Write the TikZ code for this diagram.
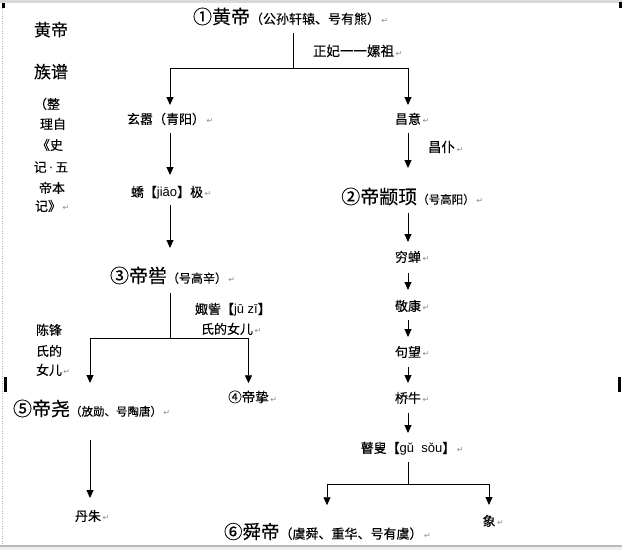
\documentclass[tikz,border=0pt]{standalone}
\usepackage{fontspec}
\setmainfont{Noto Sans CJK SC}[FakeBold=0.15]
\newfontfamily\latf{Liberation Sans}
\newfontfamily\symf{DejaVu Sans}
\usetikzlibrary{arrows.meta}
\newcommand\pmk{\rlap{\hspace{1.5pt}{\symf\fontsize{8}{8}\selectfont\color{black!45}↵}}}
\newcommand\sm[2]{{\fontsize{#1}{#1}\selectfont #2}}
\tikzset{
  tn/.style={inner sep=0pt, outer sep=0pt, font=\fontsize{#1}{#1}\selectfont,
             text height={0.8*#1pt}, text depth={0.2*#1pt}},
  ln/.style={line width=0.9pt, black},
  arr/.style={line width=0.9pt, black, -{Triangle[width=7pt,length=8pt]}},
}
\begin{document}
\begin{tikzpicture}[x=1pt,y=-1pt]
\useasboundingbox (0,0) rectangle (622,550);
\fill[white] (0,0) rectangle (622,550);
% page frame of the screenshot
\fill[gray!30] (0,0) rectangle (622,3);
\draw[gray!60, line width=0.8pt, dash pattern=on 1pt off 1.5pt] (2.5,3) -- (2.5,545);
\fill[gray!55] (0,545) rectangle (622,547);
\fill[gray!12] (0,547) rectangle (622,550);
\fill[black] (2,3) rectangle (4.5,8);
\fill[black] (619,2) rectangle (622,7.5);
\fill[black] (4,377) rectangle (7,392);
\fill[black] (618,377) rectangle (621,392);

% coordinates for columns and junctions
\coordinate (L) at (170,0);
\coordinate (R) at (408,0);
\coordinate (L2) at (90,0);
\coordinate (S) at (327,0);
\coordinate (J1) at (293,68);
\coordinate (J2) at (170,338);
\coordinate (J3) at (408,484);

% title block at left
\node[tn=17, anchor=west] (t1) at (34,31) {黄帝};
\node[tn=17, anchor=west] (t2) at (34,73) {族谱};
\node[tn=13] (c1) at (47,105) {（整};
\node[tn=13] (c2) at (53,125) {理自};
\node[tn=13] (c3) at (50,146) {《史};
\node[tn=13] (c4) at (51,168) {记{\latf\,·\,}五};
\node[tn=13] (c5) at (52,189) {帝本};
\node[tn=13] (c6) at (48,207) {记》\pmk};

% main nodes
\node[tn=19, anchor=west] (hd) at (193,18) {①黄帝\sm{13}{（公孙轩辕、号有熊）}\pmk};
\node[tn=13.5, anchor=west] (fei) at (313,52) {正妃一一嫘祖\pmk};
\node[tn=13] (xx) at (166,120) {玄嚣（青阳）\pmk};
\node[tn=13] (jj) at (167,193) {蟜【{\latf jiāo}】极\pmk};
\node[tn=19, anchor=west] (dk) at (110,277) {③帝喾\sm{12}{（号高辛）}\pmk};
\node[tn=13, anchor=west] (jz1) at (195,310) {娵訾【{\latf jū zī}】};
\node[tn=13, anchor=west] (jz2) at (201,330) {氏的女儿\pmk};
\node[tn=13, anchor=west] (cf1) at (36,331) {陈锋};
\node[tn=13, anchor=west] (cf2) at (36,352) {氏的};
\node[tn=13, anchor=west] (cf3) at (36,371) {女儿\pmk};
\node[tn=19, anchor=west] (dy) at (13,410) {⑤帝尧\sm{11.5}{（放勋、号陶唐）}\pmk};
\node[tn=13.5] (dz) at (248.5,398) {④帝挚\pmk};
\node[tn=13] (dzh) at (88,517) {丹朱\pmk};

\node[tn=13] (cy) at (408,120) {昌意\pmk};
\node[tn=13.5, anchor=west] (cp) at (428,148) {昌仆\pmk};
\node[tn=19] (zx) at (408,198) {②帝颛顼\sm{11.5}{（号高阳）}\pmk};
\node[tn=13] (qc) at (408,258) {穷蝉\pmk};
\node[tn=13] (jk) at (408,307) {敬康\pmk};
\node[tn=13] (gw) at (408,353) {句望\pmk};
\node[tn=13] (qn) at (408,399) {桥牛\pmk};
\node[tn=13] (gs) at (408,449) {瞽叟【{\latf gǔ\ \ sǒu}】\pmk};
\node[tn=13] (xiang) at (489,522) {象\pmk};
\node[tn=18.5, anchor=west] (sd) at (224,533) {⑥舜帝\sm{13}{（虞舜、重华、号有虞）}\pmk};

% connectors
\draw[ln, shorten <=5.5pt] (hd.south -| J1) -- (J1);
\draw[arr, shorten >=8.5pt] (J1) -| (xx.north -| L);
\draw[arr, shorten >=8.5pt] (J1) -| (cy.north);
\draw[arr, shorten <=6.5pt, shorten >=11.5pt] (xx.south -| L) -- (jj.north -| L);
\draw[arr, shorten <=5.5pt, shorten >=19.5pt] (jj.south -| L) -- (dk.north -| L);
\draw[ln, shorten <=6.5pt] (dk.south -| L) -- (J2);
\draw[arr, shorten >=17.5pt] (J2) -| (dy.north -| L2);
\draw[arr, shorten >=8pt] (J2) -| (dz.north);
\draw[arr, shorten <=20.5pt, shorten >=12.5pt] (dy.south -| L2) -- (dzh.north -| L2);

\draw[arr, shorten <=6.5pt, shorten >=20.5pt] (cy.south) -- (zx.north);
\draw[arr, shorten <=5.5pt, shorten >=9.5pt] (zx.south) -- (qc.north);
\draw[arr, shorten <=8.5pt, shorten >=10.5pt] (qc.south) -- (jk.north);
\draw[arr, shorten <=6.5pt, shorten >=9.5pt] (jk.south) -- (gw.north);
\draw[arr, shorten <=7.5pt, shorten >=9.5pt] (gw.south) -- (qn.north);
\draw[arr, shorten <=7.5pt, shorten >=9.5pt] (qn.south) -- (gs.north);
\draw[ln, shorten <=6.5pt] (gs.south) -- (J3);
\draw[arr, shorten >=18.5pt] (J3) -| (sd.north -| S);
\draw[arr, shorten >=10.5pt] (J3) -| (xiang.north);
\end{tikzpicture}
\end{document}
